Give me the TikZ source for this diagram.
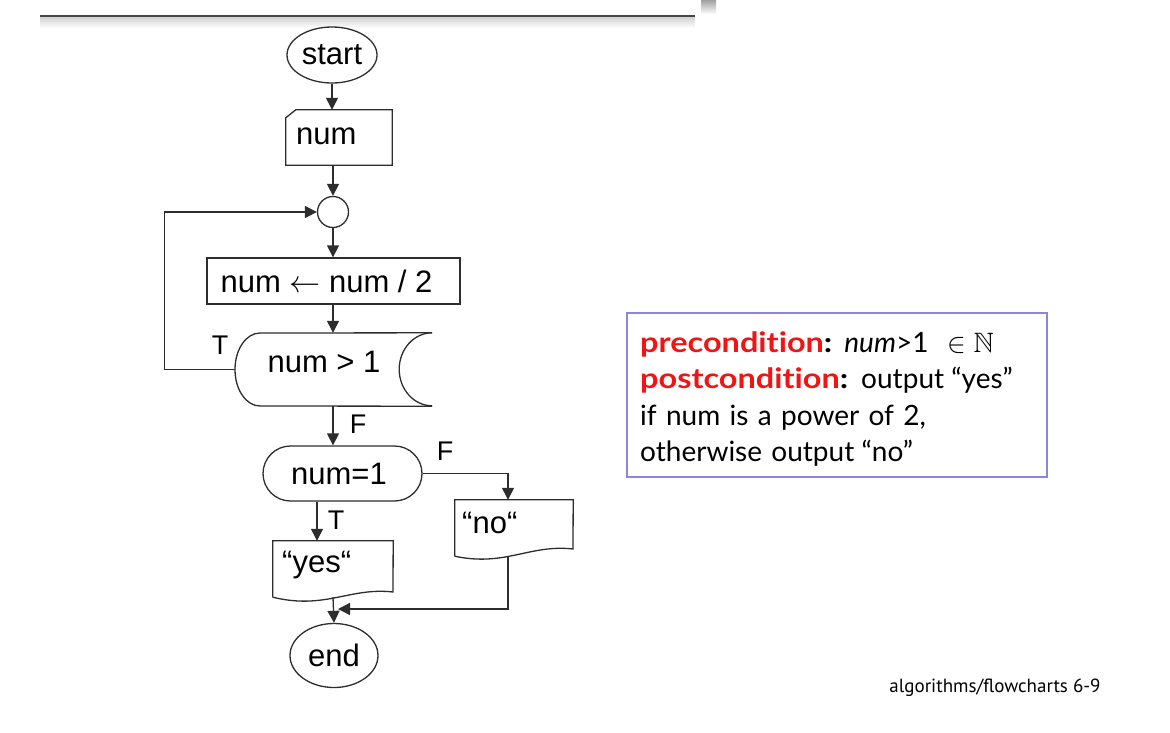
\RequirePackage{fix-cm}
\documentclass[tikz,border=0pt]{standalone}
\usepackage{amssymb}
\usepackage{fontspec}
\setmainfont{Liberation Sans}
\newfontfamily\boxfont[Ligatures=NoCommon,BoldFeatures={FakeStretch=1.16}]{Lato}
\newfontfamily\capfont{PT Sans}
\usetikzlibrary{arrows.meta,shapes.geometric}
\definecolor{ln}{RGB}{45,45,45}
\definecolor{boxblue}{RGB}{135,135,225}
\definecolor{pred}{RGB}{240,20,20}
\begin{document}
\begin{tikzpicture}[x=1pt,y=-1pt,
  flow/.style={draw=ln, line width=1.3pt},
  arr/.style={draw=ln, line width=1.3pt, -{Triangle[length=12pt,width=12pt]}},
  txt/.style={font=\fontsize{31}{36}\selectfont, inner sep=0pt},
  lbl/.style={font=\fontsize{27}{31}\selectfont, inner sep=0pt},
  term/.style={ellipse, draw=ln, line width=1.3pt, inner sep=0pt, font=\fontsize{31}{36}\selectfont},
  shapebox/.style={inner sep=0pt, draw=none},
]
\useasboundingbox (0,0) rectangle (1170,732);
% header line
\shade[top color=gray!35, bottom color=white] (40,17) rectangle (695,28);
\draw[gray!55!black, line width=2.5pt] (40,16) -- (695,16);
\shade[top color=gray!75, bottom color=white] (701,0) rectangle (716,14);

% nodes
\node[term, minimum width=90pt, minimum height=56pt] (start) at (332,55) {start};
\node[shapebox, minimum width=106pt, minimum height=55pt] (numin) at (339,137.5) {};
\node[txt, anchor=west] (numt) at (296,136) {num};
\node[circle, draw=ln, line width=1.3pt, minimum size=31pt, inner sep=0pt] (join) at (333,212) {};
\node[txt, draw=ln, line width=1.3pt, minimum width=253pt, minimum height=46pt] (calc) at (333.5,281) {\hspace*{-14pt}num $\leftarrow$ num / 2};
\node[shapebox, minimum width=197pt, minimum height=73pt] (test) at (333.5,369.5) {};
\node[txt] (testt) at (324,362) {num > 1};
\node[txt, draw=ln, line width=1.3pt, rounded corners=27.5pt, minimum width=159pt, minimum height=55pt] (eq) at (342.5,473.5) {\hspace*{-7pt}num=1};
\node[shapebox, minimum width=118pt, minimum height=56pt] (no) at (514,528) {};
\node[txt, anchor=west] (not) at (462,523) {“no“};
\node[shapebox, minimum width=120pt, minimum height=56pt] (yes) at (333,569) {};
\node[txt, anchor=west] (yest) at (282,565) {“yes“};
\node[term, minimum width=88pt, minimum height=64pt] (end) at (334,655.5) {end};

% shape outlines
\draw[flow] ([xshift=10pt]numin.north west) -- (numin.north east) -- (numin.south east)
  -- (numin.south west) -- ([yshift=-8pt]numin.north west) -- cycle;
\draw[flow] (test.north east) -- (260,333)
  arc[start angle=270, end angle=90, x radius=25, y radius=36.5] -- (test.south east);
\draw[flow] (test.north east) arc[start angle=270, end angle=90, x radius=33, y radius=36.5];
\draw[flow] (no.south west) -- (no.north west) -- (no.north east) -- (573,549)
  .. controls (530,544) and (505,567) .. (no.south west);
\draw[flow] (yes.south west) -- (yes.north west) -- (yes.north east) -- (393,592)
  .. controls (350,587) and (325,610) .. (yes.south west);

% connectors
\draw[arr] (start.south) -- (start.south |- numin.north);
\draw[arr] (join |- numin.south) -- (join.north);
\draw[arr] (join.south) -- (join |- calc.north);
\draw[arr] (join |- calc.south) -- (join |- test.north);
\draw[arr] (join |- test.south) -- (join |- eq.north);
\draw[arr] (test.west) -- ++(-70,0) |- (join.west);
\draw[arr] (eq.east) -| ([xshift=-6pt]no.north);
\draw[arr] ([xshift=-25.5pt]eq.south) -- ([xshift=-16pt]yes.north);
\draw[arr] (yes.south) -- (end.north);
\coordinate (merge) at (333,609);
\draw[arr, shorten >=5pt] ([xshift=-6pt]no.south) |- (merge);

% labels
\node[lbl] (lt1) at (220,345) {T};
\node[lbl] (lf1) at (358,424) {F};
\node[lbl] (lf2) at (445,451) {F};
\node[lbl] (lt2) at (336,520) {T};

% condition box
\node[draw=boxblue, line width=1.2pt, minimum width=420pt, minimum height=164pt, inner sep=0pt] (cond) at (837,395) {};
\node[anchor=north west, text width=400pt, align=left, inner sep=0pt,
  font=\boxfont\fontsize{28}{36.5}\selectfont] (condt) at (640,331) {%
{\color{pred}\bfseries precondition}\textbf{:}\hspace{-2pt} \textit{num}>1 \ $\in \mathbb{N}$\\
{\color{pred}\bfseries postcondition}\textbf{:}\hspace{-1pt} output\hspace{-2pt} “yes”\\
if num is a power of 2,\\
otherwise output\hspace{-2pt} “no”};

\node[font=\capfont\fontsize{19}{22}\selectfont, inner sep=0pt] (cap) at (995,688) {algorithms/flowcharts 6-9};
\end{tikzpicture}
\end{document}
